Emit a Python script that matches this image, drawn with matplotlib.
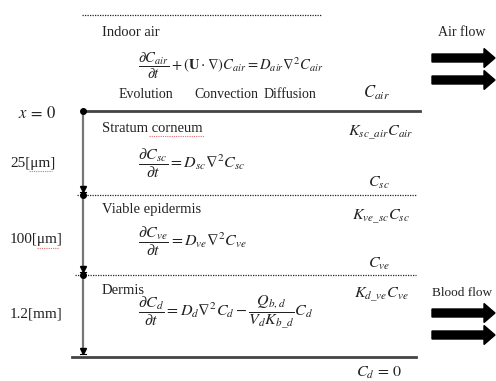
import matplotlib.pyplot as plt
from matplotlib.patches import FancyArrow

plt.rcParams['font.family'] = ['Liberation Serif', 'DejaVu Serif']
plt.rcParams['mathtext.fontset'] = 'stix'

# skin layers, top to bottom
layer_names = ['Stratum corneum', 'Viable epidermis', 'Dermis']
layer_depths = ['25[\u03bcm]', '100[\u03bcm]', '1.2[mm]']
layer_eqs = [
    r'$\dfrac{\partial C_{sc}}{\partial t}=D_{sc}\nabla^2 C_{sc}$',
    r'$\dfrac{\partial C_{ve}}{\partial t}=D_{ve}\nabla^2 C_{ve}$',
    r'$\dfrac{\partial C_{d}}{\partial t}=D_{d}\nabla^2 C_{d}-\dfrac{Q_{b,d}}{V_d K_{b\_d}}C_d$',
]
top_bc = [r'$K_{sc\_air}C_{air}$', r'$K_{ve\_sc}C_{sc}$', r'$K_{d\_ve}C_{ve}$']
bottom_bc = [r'$C_{sc}$', r'$C_{ve}$', r'$C_d\,=\,0$']

air_eq = r'$\dfrac{\partial C_{air}}{\partial t}+(\mathbf{U}\cdot\nabla)C_{air}=D_{air}\nabla^2 C_{air}$'
air_terms = ['Evolution', 'Convection', 'Diffusion']
flow_labels = ['Air flow', 'Blood flow']

# layout (pixel units)
bounds = [111, 195, 275, 357]
name_y = [128, 210, 290]
eq_y = [163, 241, 312]
top_bc_y = [133, 217, 295]
bot_bc_y = [183, 264, 373]
depth_y = [163, 240, 314]
term_x = [146, 226, 290]
flow_y = [(58, 80), (313, 335)]
flow_label_y = [33, 293]
flow_label_size = [10, 9.5]

fig = plt.figure(figsize=(4.96, 3.81), dpi=100)
ax = fig.add_axes([0, 0, 1, 1])
ax.set_xlim(0, 496)
ax.set_ylim(381, 0)
ax.axis('off')

ink = '#222222'
squiggle = '#e07070'

# indoor air
ax.plot([82, 322], [15, 15], color=ink, lw=0.9, ls=(0, (1, 1)))
ax.text(102, 32, 'Indoor air', fontsize=10.5, va='center', color=ink)
ax.text(138, 66, air_eq, fontsize=10.5, va='center', color=ink)
for x, t in zip(term_x, air_terms):
    ax.text(x, 94, t, fontsize=10, ha='center', va='center', color=ink)
ax.text(363, 93, r'$C_{air}$', fontsize=12, va='center', color=ink)

# boundaries
ax.plot([82, 420], [bounds[0], bounds[0]], color='#444444', lw=2)
ax.plot([77, 417], [bounds[1], bounds[1]], color=ink, lw=0.9, ls=(0, (1, 1)))
ax.plot([75, 416], [bounds[2], bounds[2]], color=ink, lw=0.9, ls=(0, (1, 1)))
ax.plot([72, 416], [bounds[3], bounds[3]], color='#444444', lw=2)
ax.text(18, 114, r'$x\,=\,0$', fontsize=12, va='center', color=ink)

# depth axis with arrows
ax.plot([83, 83], [bounds[0], bounds[3] - 4], color='#777777', lw=1.6)
ax.plot([83, 83, 83], bounds[:3], 'o', color='black', ms=4)
for b in bounds[1:]:
    ax.plot([83], [b - 6], marker='v', color='black', ms=4)
    ax.plot([80, 86], [b - 3, b - 3], color='black', lw=0.8)

for i in range(3):
    ax.text(102, name_y[i], layer_names[i], fontsize=10.5, va='center', color=ink)
    ax.text(138, eq_y[i], layer_eqs[i], fontsize=11.5, va='center', color=ink)
    ax.text(381, top_bc_y[i], top_bc[i], fontsize=11.5, ha='center', va='center', color=ink)
    ax.text(379, bot_bc_y[i], bottom_bc[i], fontsize=11.5, ha='center', va='center', color=ink)
    ax.text(10, depth_y[i], layer_depths[i], fontsize=11, va='center', color=ink)

# spell-check underlines
ax.plot([149, 204], [136, 136], color=squiggle, lw=0.8, ls=(0, (1, 1)))
ax.plot([29, 52], [171, 171], color=squiggle, lw=0.8, ls=(0, (1, 1)))
ax.plot([37, 59], [248, 248], color=squiggle, lw=0.8, ls=(0, (1, 1)))

# flow arrows
for lab, ly, fs, ys in zip(flow_labels, flow_label_y, flow_label_size, flow_y):
    ax.text(462, ly, lab, fontsize=fs, ha='center', va='center', color=ink)
    for y in ys:
        ax.add_patch(FancyArrow(432, y, 63, 0, width=8, head_width=19, head_length=11,
                                length_includes_head=True, color='black'))

fig.savefig('out.png', dpi=100)
